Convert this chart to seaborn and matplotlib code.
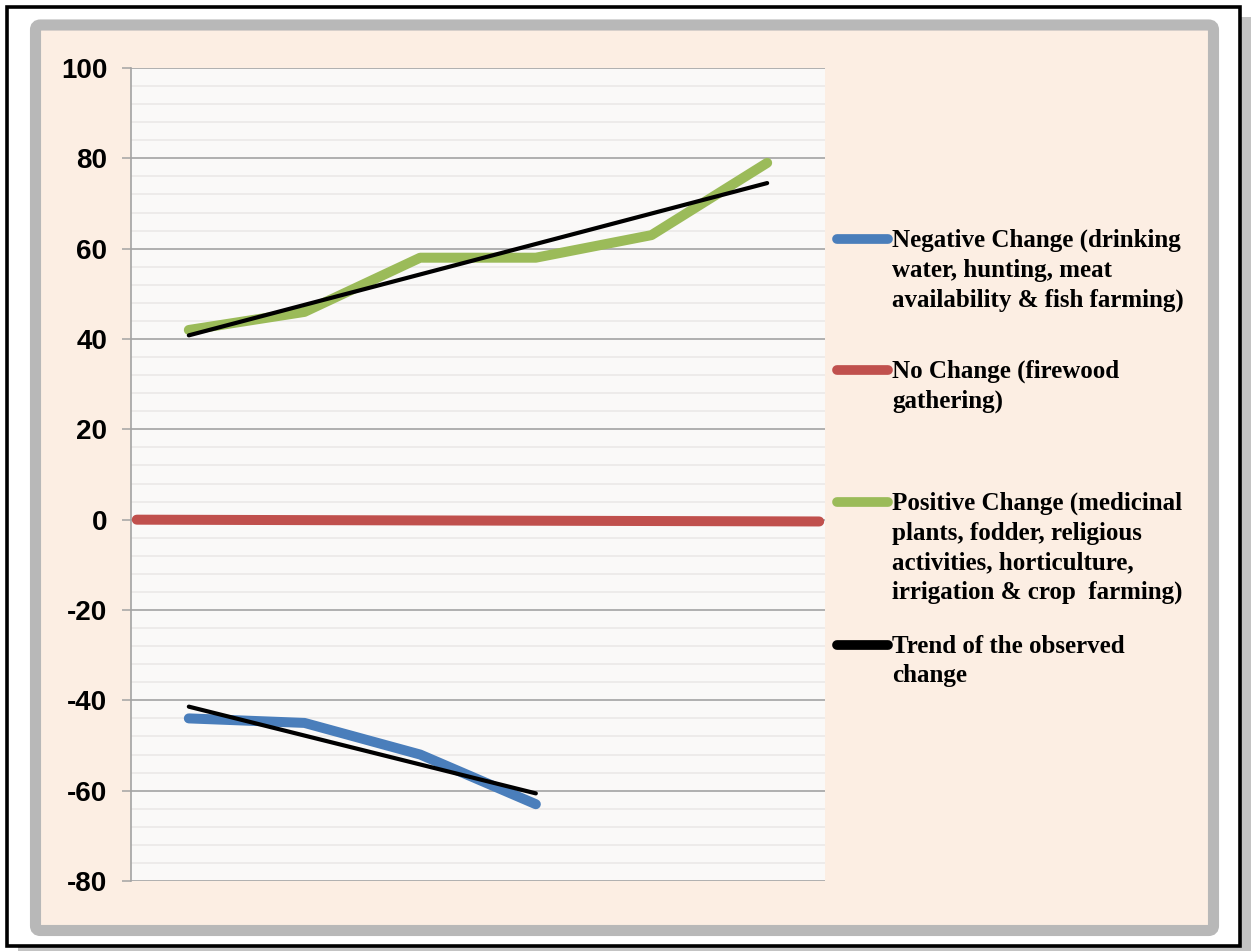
import numpy as np
import pandas as pd
import matplotlib
matplotlib.use("Agg")
import matplotlib.pyplot as plt
from matplotlib.patches import Rectangle, FancyBboxPatch
from matplotlib.lines import Line2D
from matplotlib.transforms import IdentityTransform
from matplotlib.ticker import MultipleLocator
import seaborn as sns

# ---- data -------------------------------------------------------------
positions = [0, 1, 2, 3, 4, 5]
negative_vals = [-44, -45, -52, -63]
positive_vals = [42, 46, 58, 58, 63, 79]
no_change_x = [-0.45, 1, 4, 5.45]
no_change_vals = [0.0, -0.1, -0.3, -0.4]
y_ticks = [-80, -60, -40, -20, 0, 20, 40, 60, 80, 100]

legend_labels = [
    "Negative Change (drinking\nwater, hunting, meat\navailability & fish farming)",
    "No Change (firewood\ngathering)",
    "Positive Change (medicinal\nplants, fodder, religious\nactivities, horticulture,\nirrigation & crop  farming)",
    "Trend of the observed\nchange",
]
c_blue, c_red, c_green, c_black = "#4A7EBB", "#C0504D", "#9BBB59", "#000000"
legend_colors = [c_blue, c_red, c_green, c_black]

sns.set_theme(style="white")
plt.rcParams["font.family"] = ["Liberation Sans", "DejaVu Sans"]
plt.rcParams["axes.unicode_minus"] = False

W, H = 1251, 951
fig = plt.figure(figsize=(W / 100, H / 100), dpi=100, facecolor="white")


def px(x, y):
    """top-left pixel coordinates -> display coordinates"""
    return x, H - y


# ---- outer frame ------------------------------------------------------
shadow = Rectangle(px(18, 951), W - 18, 951 - 17, transform=IdentityTransform(),
                   facecolor="#C3C3C3", edgecolor="none", zorder=0)
fig.add_artist(shadow)
frame = Rectangle(px(7, 946), 1240 - 7, 946 - 7, transform=IdentityTransform(),
                  facecolor="white", edgecolor="black", linewidth=2.6, zorder=1)
fig.add_artist(frame)
panel = FancyBboxPatch(px(35.5, 930.5), 1213.5 - 35.5, 930.5 - 25,
                       boxstyle="round,pad=0,rounding_size=5",
                       transform=IdentityTransform(),
                       facecolor="#FCEEE3", edgecolor="#B8B8B8",
                       linewidth=8.0, zorder=2)
fig.add_artist(panel)

# ---- plot area --------------------------------------------------------
left, top, right, bottom = 131, 68, 825, 881
ax = fig.add_axes([left / W, 1 - bottom / H, (right - left) / W, (bottom - top) / H],
                  zorder=5)
ax.set_facecolor("#FAF9F8")

lw_series = 7.2
sns.lineplot(x=no_change_x, y=no_change_vals, ax=ax, color=c_red,
             linewidth=lw_series, solid_capstyle="round", solid_joinstyle="round",
             zorder=3)
sns.lineplot(x=positions[:len(negative_vals)], y=negative_vals, ax=ax, color=c_blue,
             linewidth=lw_series, solid_capstyle="round", solid_joinstyle="round",
             zorder=3)
sns.lineplot(x=positions, y=positive_vals, ax=ax, color=c_green,
             linewidth=lw_series, solid_capstyle="round", solid_joinstyle="round",
             zorder=3)

# linear trend lines
for xs, ys in [(positions, positive_vals), (positions[:len(negative_vals)], negative_vals)]:
    sns.regplot(x=np.array(xs, dtype=float), y=np.array(ys, dtype=float), ax=ax,
                scatter=False, ci=None, truncate=True, color=c_black,
                line_kws=dict(linewidth=3.0, zorder=4))

ax.set_xlim(-0.5, 5.5)
ax.set_ylim(-80, 100)
ax.set_xticks([])
ax.set_yticks(y_ticks)
ax.yaxis.set_minor_locator(MultipleLocator(4))
ax.set_xlabel("")
ax.set_ylabel("")

ax.grid(which="major", axis="y", color="#A3A3A3", linewidth=1.2, zorder=1)
ax.grid(which="minor", axis="y", color="#EDEBEA", linewidth=1.4, zorder=1)
ax.set_axisbelow(True)

for side in ["top", "right", "bottom"]:
    ax.spines[side].set_visible(False)
ax.spines["left"].set_color("#A3A3A3")
ax.spines["left"].set_linewidth(1.2)

ax.tick_params(axis="y", which="major", direction="out", length=6.5, width=1.1,
               color="#A3A3A3", pad=10.5, left=True, labelsize=20)
ax.tick_params(axis="y", which="minor", length=0)
for lab in ax.get_yticklabels():
    lab.set_fontweight("bold")
    lab.set_fontfamily(["Liberation Sans", "DejaVu Sans"])
    lab.set_color("black")

# ---- legend -----------------------------------------------------------
baselines = [247, 378, 510, 653]
for label, color, base in zip(legend_labels, legend_colors, baselines):
    hy = base - 8
    fig.add_artist(Line2D([837 / W, 888 / W], [1 - hy / H, 1 - hy / H],
                          transform=fig.transFigure, color=color, linewidth=7.0,
                          solid_capstyle="round", zorder=6))
    fig.text(892 / W, 1 - (base - 18) / H, label, ha="left", va="top",
             fontsize=18, fontweight="bold", linespacing=1.36,
             family=["Liberation Serif", "DejaVu Serif"], color="black", zorder=6)

fig.savefig("out.png", dpi=100, facecolor="white")
